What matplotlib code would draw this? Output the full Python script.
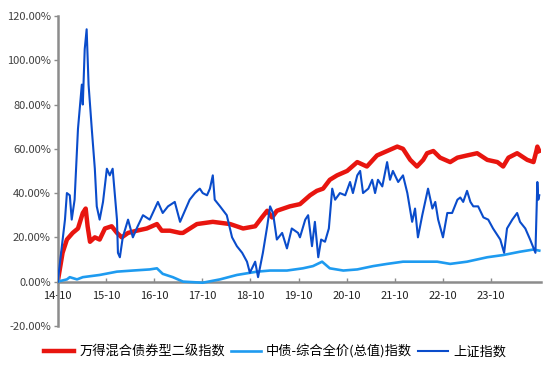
import matplotlib
matplotlib.use('Agg')
import matplotlib.pyplot as plt
from matplotlib.ticker import FuncFormatter

plt.rcParams['font.family'] = ['Noto Sans CJK SC', 'DejaVu Sans']

# years since 2014-10, values in %
t_mixed = [0.00, 0.10, 0.19, 0.31, 0.42, 0.52, 0.58, 0.62, 0.67, 0.77, 0.87, 0.98,
           1.12, 1.23, 1.33, 1.46, 1.64, 1.85, 2.06, 2.16, 2.33, 2.54, 2.60, 2.89,
           3.22, 3.58, 3.85, 4.10, 4.24, 4.35, 4.45, 4.55, 4.82, 5.03, 5.24, 5.38,
           5.51, 5.65, 5.80, 6.01, 6.22, 6.42, 6.63, 6.84, 7.05, 7.17, 7.32, 7.46,
           7.59, 7.67, 7.80, 7.94, 8.15, 8.30, 8.50, 8.71, 8.92, 9.13, 9.25, 9.36,
           9.54, 9.75, 9.88, 9.94, 9.96, 10.00]
v_mixed = [0, 13, 19, 22, 24, 31, 33, 25, 18, 20, 19, 24,
           25, 22, 20, 22, 23, 24, 26, 23, 23, 22, 22, 26,
           27, 26, 24, 25, 29, 32, 29, 32, 34, 35, 39, 41,
           42, 46, 48, 50, 54, 52, 57, 59, 61, 60, 55, 52,
           55, 58, 59, 56, 54, 56, 57, 58, 55, 54, 52, 56,
           58, 55, 54, 59, 61, 59]

t_bond = [0.00, 0.19, 0.25, 0.40, 0.52, 0.87, 1.23, 1.56, 1.91, 2.06, 2.18, 2.39,
          2.60, 3.01, 3.37, 3.72, 4.14, 4.41, 4.76, 5.09, 5.30, 5.49, 5.65, 5.93,
          6.22, 6.55, 6.84, 7.17, 7.53, 7.88, 8.15, 8.50, 8.92, 9.25, 9.60, 9.88,
          10.00]
v_bond = [0, 1, 2, 1, 2, 3, 4.5, 5, 5.5, 6, 3.5, 2,
          0, -0.5, 1, 3, 4.5, 5, 5, 6, 7, 9, 6, 5,
          5.5, 7, 8, 9, 9, 9, 8, 9, 11, 12, 13.5, 14.5,
          14]

t_sh = [0.00, 0.15, 0.19, 0.25, 0.29, 0.35, 0.42, 0.50, 0.52, 0.56, 0.60, 0.64,
        0.71, 0.77, 0.81, 0.87, 0.94, 1.02, 1.08, 1.14, 1.23, 1.25, 1.29, 1.35,
        1.46, 1.56, 1.66, 1.77, 1.91, 2.08, 2.18, 2.29, 2.43, 2.54, 2.60, 2.74,
        2.85, 2.95, 3.01, 3.10, 3.16, 3.22, 3.26, 3.37, 3.51, 3.62, 3.72, 3.83,
        3.93, 3.99, 4.10, 4.16, 4.26, 4.35, 4.41, 4.47, 4.55, 4.66, 4.76, 4.86,
        4.99, 5.03, 5.14, 5.20, 5.28, 5.34, 5.41, 5.47, 5.55, 5.63, 5.70, 5.76,
        5.86, 5.97, 6.07, 6.13, 6.22, 6.28, 6.34, 6.45, 6.53, 6.59, 6.65, 6.74,
        6.84, 6.90, 6.96, 7.07, 7.17, 7.26, 7.36, 7.42, 7.48, 7.57, 7.69, 7.78,
        7.84, 7.90, 8.00, 8.09, 8.19, 8.30, 8.36, 8.42, 8.50, 8.57, 8.63, 8.73,
        8.84, 8.94, 9.04, 9.19, 9.27, 9.33, 9.44, 9.54, 9.60, 9.71, 9.81, 9.92,
        9.96, 9.98, 10.00]
v_sh = [0, 28, 40, 39, 28, 37, 69, 89, 80, 105, 114, 89,
        68, 51, 34, 28, 36, 51, 48, 51, 28, 13, 11, 20,
        28, 20, 25, 30, 28, 36, 31, 34, 36, 27, 30, 37,
        40, 42, 40, 39, 42, 48, 37, 34, 30, 20, 16, 13,
        9, 4, 9, 2, 13, 25, 34, 31, 19, 22, 15, 24,
        22, 20, 28, 30, 16, 27, 11, 19, 18, 24, 42, 37,
        40, 39, 45, 40, 48, 50, 40, 42, 46, 40, 46, 43,
        54, 46, 50, 45, 48, 40, 27, 33, 20, 30, 42, 33,
        36, 28, 20, 31, 31, 37, 38, 36, 41, 36, 34, 34,
        29, 28, 24, 19, 13, 24, 28, 31, 27, 24, 19, 13,
        45, 37, 39]

x_ticks = [0, 1, 2, 3, 4, 5, 6, 7, 8, 9]
x_labels = ['14-10', '15-10', '16-10', '17-10', '18-10',
            '19-10', '20-10', '21-10', '22-10', '23-10']
y_ticks = [-20, 0, 20, 40, 60, 80, 100, 120]

labels = ['万得混合债券型二级指数', '中债-综合全价(总值)指数', '上证指数']

fig = plt.figure(figsize=(5.5, 3.72), dpi=100)
ax = fig.add_axes([0.105, 0.124, 0.879, 0.833])

ax.plot(t_mixed, v_mixed, color='#E8150F', lw=3.2, label=labels[0], zorder=2)
ax.plot(t_bond, v_bond, color='#1E9BF0', lw=1.9, label=labels[1], zorder=3)
ax.plot(t_sh, v_sh, color='#0A4CCB', lw=1.5, label=labels[2], zorder=4)

ax.set_xlim(0, 10.04)
ax.set_ylim(-20, 120)
ax.set_yticks(y_ticks)
ax.yaxis.set_major_formatter(FuncFormatter(lambda v, p: f'{v:.2f}%'))
ax.set_xticks(x_ticks)
ax.set_xticklabels(x_labels)

for s in ['top', 'right']:
    ax.spines[s].set_visible(False)
ax.spines['left'].set_color('#8C8C8C')
ax.spines['left'].set_linewidth(1.8)
ax.spines['bottom'].set_position(('data', 0))
ax.spines['bottom'].set_color('#8C8C8C')
ax.spines['bottom'].set_linewidth(1.8)

ax.tick_params(axis='y', labelsize=8, color='#8C8C8C', labelcolor='#404040',
               length=3, width=1, direction='out', pad=2)
ax.tick_params(axis='x', labelsize=8, labelcolor='#222222', color='#8C8C8C',
               length=3, width=1, direction='in', pad=7)

leg = fig.legend(loc='center', bbox_to_anchor=(0.5, 0.055), ncol=3,
                 frameon=False, fontsize=9.5, handlelength=2.3,
                 columnspacing=0.4, handletextpad=0.4)

fig.savefig('out.png', dpi=100, facecolor='white')
